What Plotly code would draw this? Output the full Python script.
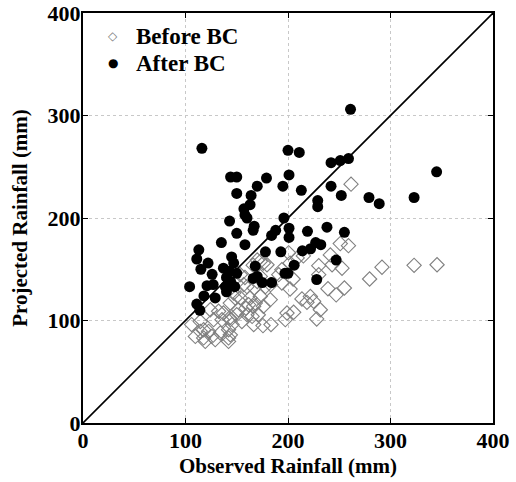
import plotly.graph_objects as go

# Before BC (observed, projected)
before_x = [261.5, 251, 259, 252.7, 243, 291.7, 279.6, 323, 345.4, 255, 247, 239, 241.3, 230, 230,
            213.6, 221.8, 218.5, 225, 231.5, 228, 202, 194, 199, 205.5, 197.4, 182.7, 176, 168, 171,
            166.5, 175.6, 183.4, 167, 176, 202, 200.6, 205, 194, 148.6, 159, 150, 143.7, 106, 114.4,
            109.6, 117.7, 117.7, 125.8, 132.3, 137, 135.6, 142, 142, 134, 145.4, 161.6, 165, 153.5,
            156.7, 170, 173, 179.5, 124.2, 127.4, 114.4, 122.5, 119.3, 129, 143, 143.7, 142, 146.9,
            143.7, 153.5, 160, 163, 166.5, 151.7, 160, 173, 155, 173, 191, 178, 183, 209, 215, 166,
            170, 158]
before_y = [233, 175, 173, 151, 154.4, 152, 140.5, 153.8, 154.4, 131.7, 125, 131, 164, 153.5, 144.7,
            121, 123.5, 117.7, 118.7, 110.5, 101.5, 130.7, 136.6, 107.3, 108, 100.8, 120.3, 113.8, 117,
            105.6, 96, 95, 96, 131.7, 156, 156, 166, 140.5, 149.6, 122, 112, 105.7, 100.8, 96, 99,
            84.5, 83, 91, 84.5, 109, 107.3, 100.8, 91, 83, 87.8, 96, 115.4, 104, 144.7, 135, 138,
            157.7, 154.4, 110.5, 100.8, 89.4, 89.4, 79.6, 81.3, 102.4, 86, 79.6, 126.8, 117, 122, 133,
            122, 113.8, 110.5, 105.7, 123.5, 99, 143, 144.7, 133, 135, 161, 163, 154, 159, 142]

# After BC (observed, projected)
after_x = [116, 144, 150, 179, 170, 150, 164, 163, 157, 158, 160, 143, 167, 261, 200, 211, 242, 251,
           259, 201, 195, 213, 242, 252, 229, 229, 196, 279, 289, 166, 150, 135, 188, 184, 201, 201,
           219, 238, 255, 158, 178, 193, 214, 222, 227, 232, 247, 145, 147, 137, 168, 206, 197, 200,
           170, 175, 184, 166, 228, 140, 104, 113, 111, 122, 115, 126, 121, 118, 129, 111, 114, 143,
           140, 144, 139, 150, 345, 323, 127, 148]
after_y = [268, 240, 240, 239, 231, 224, 222, 213, 209, 203, 200, 197, 192, 306, 266, 264, 254, 256,
           258, 242, 231, 227, 231, 222, 217, 211, 200, 220, 214, 188, 185, 176, 188, 183, 190, 181,
           187, 191, 186, 174, 167, 167, 168, 170, 176, 174, 159, 162, 156, 151, 153, 154, 146, 146,
           143, 137, 137, 141, 140, 128, 133, 169, 160, 156, 150, 145, 134, 124, 122, 116, 110, 148,
           142, 138, 133, 146, 245, 220, 135, 133]

line_x = [0, 400]
line_y = [0, 400]
tick_vals = [0, 100, 200, 300, 400]
tick_text = ["0", "100", "200", "300", "400"]
legend_names = ["Before BC", "After BC"]

font_family = "Liberation Serif, Times New Roman, serif"

fig = go.Figure()
fig.add_trace(go.Scatter(
    x=before_x, y=before_y, mode="markers", name=legend_names[0], showlegend=False,
    marker=dict(symbol="diamond-open", size=11, color="#808080", line=dict(width=1.1, color="#808080")),
))
fig.add_trace(go.Scatter(
    x=after_x, y=after_y, mode="markers", name=legend_names[1], showlegend=False,
    marker=dict(symbol="circle", size=11, color="black"),
))
fig.add_trace(go.Scatter(
    x=line_x, y=line_y, mode="lines", showlegend=False,
    line=dict(color="black", width=1.6),
))

axis_common = dict(
    range=[0, 400], tickvals=tick_vals, ticktext=tick_text, automargin=False,
    showgrid=True, gridcolor="#c8c8c8", griddash="dot", gridwidth=1,
    zeroline=False, showline=True, linecolor="black", linewidth=2, mirror="ticks",
    ticks="inside", ticklen=5, tickcolor="black", tickwidth=1, ticklabeloverflow="allow",
    tickfont=dict(family=font_family, size=22, color="black", weight="bold"),
)

# legend drawn as text: symbol + bold label
legend_annots = []
for name, sym, col, ypos in [(legend_names[0], "\u25C7", "#808080", 0.943),
                             (legend_names[1], "\u25CF", "black", 0.878)]:
    legend_annots.append(dict(xref="paper", yref="paper", x=0.073, y=ypos, xanchor="center", yanchor="middle",
                              text=sym, showarrow=False,
                              font=dict(family="DejaVu Sans", size=12, color=col)))
    legend_annots.append(dict(xref="paper", yref="paper", x=0.125, y=ypos, xanchor="left", yanchor="middle",
                              text="<b>" + name + "</b>", showarrow=False,
                              font=dict(family=font_family, size=23, color="black")))

fig.update_layout(
    width=516, height=482,
    margin=dict(l=83, r=23, t=13, b=59),
    paper_bgcolor="white", plot_bgcolor="white",
    font=dict(family=font_family, color="black"),
    xaxis=dict(**axis_common, ticklabelstandoff=-3,
               title=dict(text="<b>Observed Rainfall (mm)</b>", font=dict(family=font_family, size=21), standoff=6)),
    yaxis=dict(**axis_common, ticklabelstandoff=-4,
               title=dict(text="<b>Projected Rainfall (mm)</b>", font=dict(family=font_family, size=21), standoff=14)),
    annotations=legend_annots,
    showlegend=False,
)

fig.write_html("out.html", config={"displayModeBar": False},
               post_script="document.body.style.margin='0';")
